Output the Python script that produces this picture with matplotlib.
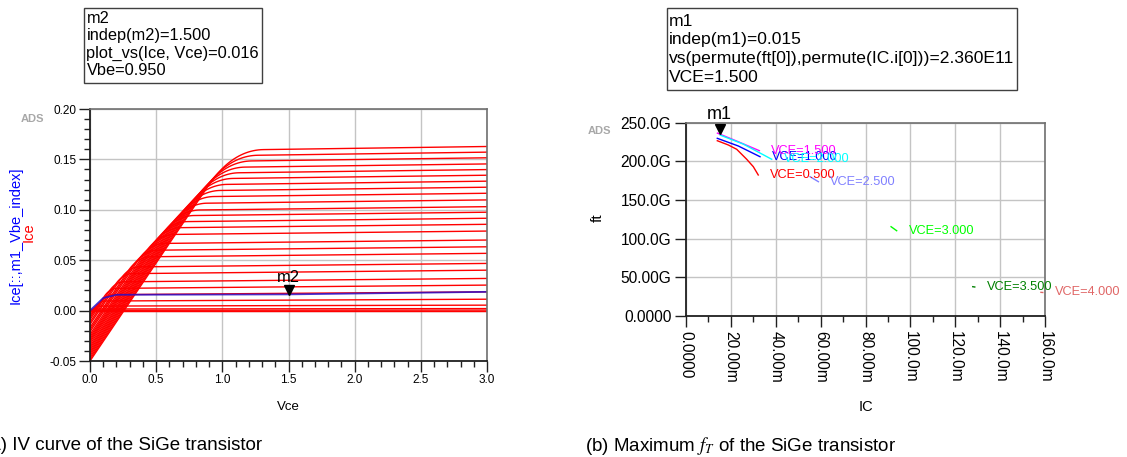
import numpy as np
import matplotlib
matplotlib.use("Agg")
import matplotlib.pyplot as plt
import matplotlib.transforms as mtransforms
from matplotlib.patches import Rectangle

plt.rcParams['font.family'] = ['Liberation Sans', 'DejaVu Sans']
plt.rcParams['mathtext.fontset'] = 'stix'

W, H = 1127, 457

# ---- IV curves (left); Ice in A, Vce in V ----
ice_end = [0.0000, 0.0005, 0.0020, 0.0054, 0.0113, 0.0186, 0.0253, 0.0319, 0.0401, 0.0468,
           0.0568, 0.0633, 0.0700, 0.0789, 0.0856, 0.0916, 0.0976, 0.1031, 0.1098, 0.1164,
           0.1224, 0.1284, 0.1343, 0.1399, 0.1455, 0.1516, 0.1572, 0.1628]
ice_knee = [0.0000, 0.0003, 0.0016, 0.0045, 0.0095, 0.0158, 0.0220, 0.0285, 0.0366, 0.0433,
            0.0533, 0.0598, 0.0665, 0.0754, 0.0821, 0.0881, 0.0941, 0.0996, 0.1063, 0.1129,
            0.1189, 0.1249, 0.1308, 0.1364, 0.1420, 0.1481, 0.1537, 0.1593]
vce_knee = [0.02, 0.02, 0.03, 0.05, 0.08, 0.13, 0.149, 0.193, 0.247, 0.293,
            0.360, 0.404, 0.449, 0.509, 0.555, 0.595, 0.636, 0.673, 0.718, 0.763,
            0.803, 0.844, 0.884, 0.922, 0.959, 1.001, 1.039, 1.076]
ice_v0 = [0.0, -0.0001, -0.0005, -0.0014, -0.0030, -0.0050, -0.0069, -0.0089, -0.0115, -0.0136,
          -0.0167, -0.0188, -0.0209, -0.0237, -0.0258, -0.0277, -0.0295, -0.0313, -0.0334, -0.0355,
          -0.0373, -0.0392, -0.0411, -0.0428, -0.0446, -0.0465, -0.0483, -0.0500]
vce_max = 3.0

# highlighted Vbe=0.950 curve
blue_vce = [0.0, 0.10, 0.20, 1.5, 3.0]
blue_ice = [0.0, 0.0125, 0.0157, 0.0161, 0.0186]

# ---- ft vs IC (right); IC in mA, ft in GHz ----
vce_names = ['VCE=0.500', 'VCE=1.000', 'VCE=1.500', 'VCE=2.000',
             'VCE=2.500', 'VCE=3.000', 'VCE=3.500', 'VCE=4.000']
vce_colors = ['#FF0000', '#0000FF', '#FF00FF', '#00FFFF',
              '#8080FF', '#00FF00', '#008000', '#E06666']
ic_curves = [
    [13.95, 18.85, 22.6, 27.05, 30.0, 32.2],
    [13.95, 23.3, 33.0],
    [14.0, 23.3, 32.7],
    [15.2, 25.5, 38.2],
    [55.3, 59.0],
    [91.4, 93.9],
    [127.8, 128.7],
    [158.2, 159.0],
]
ft_curves = [
    [226.7, 221.2, 215.6, 202.7, 193.1, 182.4],
    [229.8, 219.9, 206.0],
    [236.5, 225.4, 213.8],
    [234.0, 222.4, 202.7],
    [180.2, 173.7],
    [115.5, 110.3],
    [37.9, 37.5],
    [30.6, 30.4],
]

left_box = ['m2', 'indep(m2)=1.500', 'plot_vs(Ice, Vce)=0.016', 'Vbe=0.950']
right_box = ['m1', 'indep(m1)=0.015', 'vs(permute(ft[0]),permute(IC.i[0]))=2.360E11', 'VCE=1.500']

xt1 = [0.0, 0.5, 1.0, 1.5, 2.0, 2.5, 3.0]
yt1 = [-0.05, 0.00, 0.05, 0.10, 0.15, 0.20]
xt2 = [0, 20, 40, 60, 80, 100, 120, 140, 160]
xt2_labels = ['0.0000', '20.00m', '40.00m', '60.00m', '80.00m', '100.0m', '120.0m', '140.0m', '160.0m']
yt2 = [0, 50, 100, 150, 200, 250]
yt2_labels = ['0.0000', '50.00G', '100.0G', '150.0G', '200.0G', '250.0G']


def fx(px):
    return px / W


def fy(py):
    return 1 - py / H


def knee_curve(x0, y0, xk, yk, x1, y1):
    # straight rise, rounded knee, nearly flat tail
    d = 0.15 * xk + 0.02
    xa = max(xk - d, x0)
    ya = y0 + (yk - y0) * (xa - x0) / (xk - x0) if xk > x0 else y0
    xb = xk + 1.3 * d
    yb = yk + (y1 - yk) * (xb - xk) / (x1 - xk)
    t = np.linspace(0, 1, 25)
    bx = (1 - t) ** 2 * xa + 2 * (1 - t) * t * xk + t ** 2 * xb
    by = (1 - t) ** 2 * ya + 2 * (1 - t) * t * yk + t ** 2 * yb
    xs = np.concatenate([[x0], bx, [x1]])
    ys = np.concatenate([[y0], by, [y1]])
    return xs, ys


def style_axes(ax, lsize, maj, mnr, pad):
    for s in ['left', 'bottom']:
        ax.spines[s].set_color('#202020')
        ax.spines[s].set_linewidth(1.3)
    for s in ['top', 'right']:
        ax.spines[s].set_color('#707070')
        ax.spines[s].set_linewidth(1.2)
    ax.tick_params(which='major', direction='out', length=maj, width=1, labelsize=lsize, pad=pad,
                   color='#202020')
    ax.tick_params(which='minor', direction='out', length=mnr, width=1, color='#202020')
    ax.grid(True, which='major', color='#c4c4c4', lw=1)
    ax.set_axisbelow(True)


fig = plt.figure(figsize=(W / 100, H / 100), dpi=100)

# ---------------- left: IV curves ----------------
ax1 = fig.add_axes([fx(90), fy(361), (487 - 90) / W, (361 - 109) / H])
for i in range(len(ice_end)):
    xs, ys = knee_curve(0.0, ice_v0[i], vce_knee[i], ice_knee[i], vce_max, ice_end[i])
    ax1.plot(xs, ys, color='#FF0000', lw=1.0)
ax1.plot(blue_vce, blue_ice, color='#2a10c8', lw=1.3, alpha=0.85)

ax1.set_xlim(0, 3.0)
ax1.set_ylim(-0.05, 0.20)
ax1.set_xticks(xt1)
ax1.set_xticklabels(['%.1f' % v for v in xt1])
ax1.set_yticks(yt1)
ax1.set_yticklabels(['%.2f' % v for v in yt1])
ax1.set_xticks(np.arange(0, 3.01, 0.1), minor=True)
ax1.set_yticks(np.arange(-0.05, 0.201, 0.01), minor=True)
style_axes(ax1, 8.5, 8, 4.5, 1.5)

# marker m2
tri1 = mtransforms.offset_copy(ax1.transData, fig=fig, x=0, y=4, units='dots')
ax1.plot([1.5], [0.016], marker='v', color='black', markersize=7, transform=tri1, clip_on=False)
ax1.annotate('m2', xy=(1.5, 0.016), xytext=(0, 12.5), textcoords='offset pixels',
             ha='center', va='baseline', fontsize=11.9)

fig.text(fx(15.8), fy(235), 'Ice[::,m1_Vbe_index]', rotation=90, color='#0000FF',
         fontsize=10.5, ha='center', va='center')
fig.text(fx(29), fy(231.7), 'Ice', rotation=90, color='#FF0000',
         fontsize=10.5, ha='center', va='center')
fig.text(fx(288), fy(407), 'Vce', fontsize=9.5, ha='center', va='center')
fig.text(fx(32.5), fy(119), 'ADS', fontsize=8, fontweight='bold', color='#a8a8a8',
         ha='center', va='center')

# ---------------- right: ft vs IC ----------------
ax2 = fig.add_axes([fx(686), fy(316), (1045 - 686) / W, (316 - 122.7) / H])
for ic, ft, col, name in zip(ic_curves, ft_curves, vce_colors, vce_names):
    ax2.plot(ic, ft, color=col, lw=1.0)
    ax2.annotate(name, xy=(ic[-1], ft[-1]), xytext=(12, 0), textcoords='offset pixels',
                 ha='left', va='center', color=col, fontsize=9.2, annotation_clip=False)

ax2.set_xlim(0, 160)
ax2.set_ylim(0, 250)
ax2.set_xticks(xt2)
ax2.set_xticklabels(xt2_labels, rotation=-90, va='top', ha='center')
ax2.set_xticks(np.arange(0, 161, 10), minor=True)
ax2.set_yticks(yt2)
ax2.set_yticklabels(yt2_labels)
style_axes(ax2, 11.2, 8, 4.5, 2.5)

tri2 = mtransforms.offset_copy(ax2.transData, fig=fig, x=0, y=4.5, units='dots')
ax2.plot([15.0], [236.0], marker='v', color='black', markersize=7.5, transform=tri2, clip_on=False)
ax2.annotate('m1', xy=(15.0, 236.0), xytext=(0, 14.5), textcoords='offset pixels',
             ha='center', va='baseline', fontsize=13, annotation_clip=False)

fig.text(fx(598), fy(218), 'ft', rotation=90, fontsize=11, ha='center', va='center')
fig.text(fx(866), fy(407), 'IC', fontsize=10.5, ha='center', va='center')
fig.text(fx(599), fy(131), 'ADS', fontsize=8, fontweight='bold', color='#a8a8a8',
         ha='center', va='center')

# ---------------- marker readout boxes ----------------
fig.add_artist(Rectangle((fx(84), fy(82.7)), (262 - 84) / W, (82.7 - 8.3) / H,
                         transform=fig.transFigure, fill=False, edgecolor='#404040', lw=1))
for k, line in enumerate(left_box):
    fig.text(fx(86.5), fy(18.3 + 17.4 * k), line, fontsize=11.8, ha='left', va='center')

fig.add_artist(Rectangle((fx(666.7), fy(90)), (1017.3 - 666.7) / W, (90 - 8.3) / H,
                         transform=fig.transFigure, fill=False, edgecolor='#404040', lw=1))
for k, line in enumerate(right_box):
    fig.text(fx(668.5), fy(21 + 18.9 * k), line, fontsize=12.6, ha='left', va='center')

# ---------------- captions ----------------
fig.text(fx(-16), fy(446), '(a) IV curve of the SiGe transistor', fontsize=13.5,
         ha='left', va='center')
fig.text(fx(585), fy(446), '(b) Maximum $f_T$ of the SiGe transistor', fontsize=13.5,
         ha='left', va='center')

fig.savefig('out.png', dpi=100)
